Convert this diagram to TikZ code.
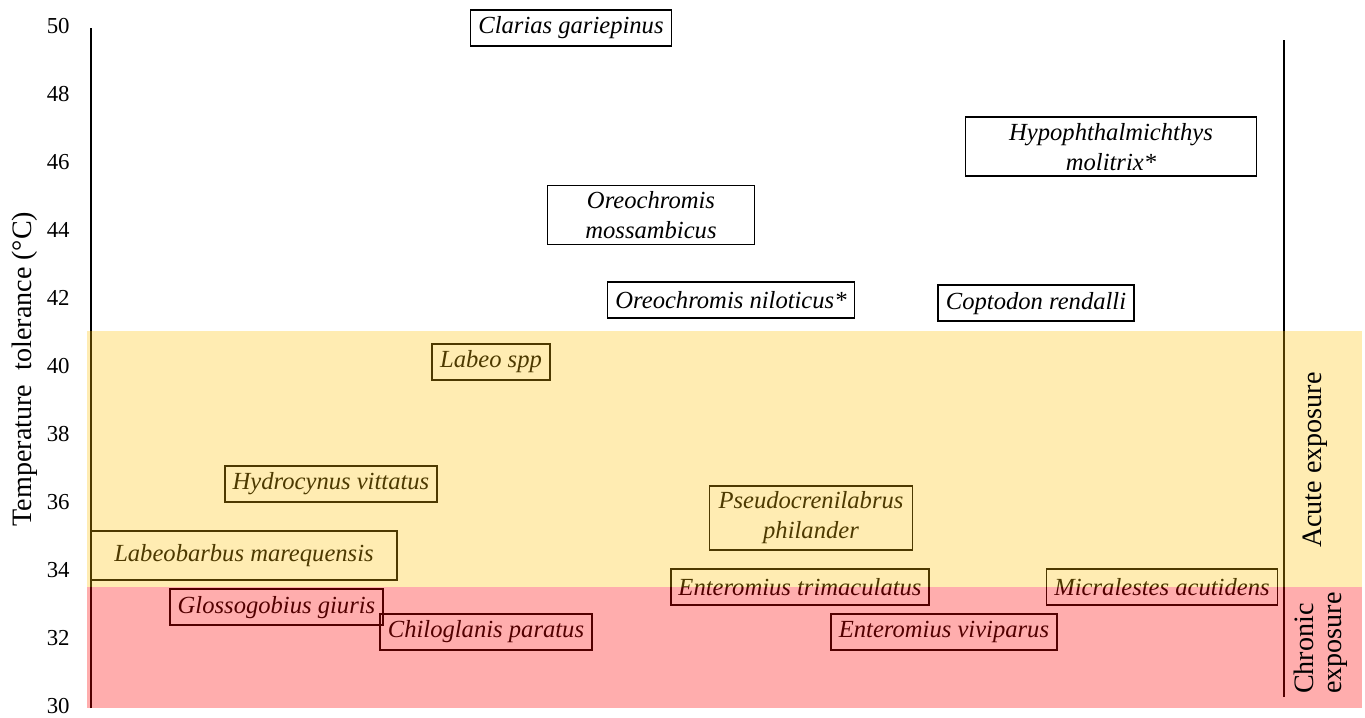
\documentclass[tikz,border=0pt]{standalone}
\usepackage{fontspec}
\setmainfont{Liberation Serif}
\definecolor{acute}{RGB}{255,192,0}
\definecolor{chronic}{RGB}{255,0,0}

\begin{document}
\begin{tikzpicture}[x=0.2mm,y=6.8mm,
    sp/.style={draw,line width=1.1pt,font=\itshape\fontsize{14}{17}\selectfont,inner xsep=4.5pt,minimum height=7.2mm,align=center},
    ylab/.style={anchor=east,inner sep=0pt,font=\fontsize{13}{15}\selectfont},
    side/.style={rotate=90,align=left,font=\fontsize{16}{16}\selectfont}]

    \useasboundingbox (0,29.735) rectangle (1365,50.824);

    % axes
    \draw[line width=1.1pt] (91,30) -- (91,50);
    \draw[line width=1.1pt] (1284,30.32) -- (1284,49.65);
    \foreach \t in {30,32,...,50}
        \node[ylab] (y\t) at (70,\t+0.07) {\t};
    \node[side] (ytitle) at (25,39.97) {Temperature\ \ tolerance (°C)};

    % species
    \node[sp] (clarias) at (571,50) {Clarias gariepinus};
    \node[sp, minimum width=4.14cm] (omoss) at (651,44.5) {Oreochromis\\mossambicus};
    \node[sp] (onil) at (731,42) {Oreochromis niloticus*};
    \node[sp, minimum width=5.82cm] (hypo) at (1111,46.51) {Hypophthalmichthys\\molitrix*};
    \node[sp] (copt) at (1036,41.9) {Coptodon rendalli};
    \node[sp] (labeo) at (491,40.19) {Labeo spp};
    \node[sp] (hydro) at (331,36.59) {Hydrocynus vittatus};
    \node[sp, minimum width=6.12cm, minimum height=9.8mm] (labeob) at (244,34.49) {Labeobarbus marequensis};
    \node[sp, minimum width=4.06cm] (pseudo) at (811,35.59) {Pseudocrenilabrus\\philander};
    \node[sp] (etrim) at (800,33.56) {Enteromius trimaculatus};
    \node[sp] (micra) at (1162,33.56) {Micralestes acutidens};
    \node[sp] (gloss) at (276.5,32.96) {Glossogobius giuris};
    \node[sp] (chilo) at (486,32.24) {Chiloglanis paratus};
    \node[sp] (eviv) at (944,32.24) {Enteromius viviparus};

    % exposure bands
    \fill[acute, fill opacity=0.3] (87,33.56) rectangle (1362,41.09);
    \fill[chronic, fill opacity=0.32] (87,30) rectangle (1362,33.56);
    \node[side] (acutelab) at (1315,37.29) {Acute exposure};
    \node[side] (chroniclab) at (1321,31.91) {Chronic\\exposure};
\end{tikzpicture}
\end{document}
